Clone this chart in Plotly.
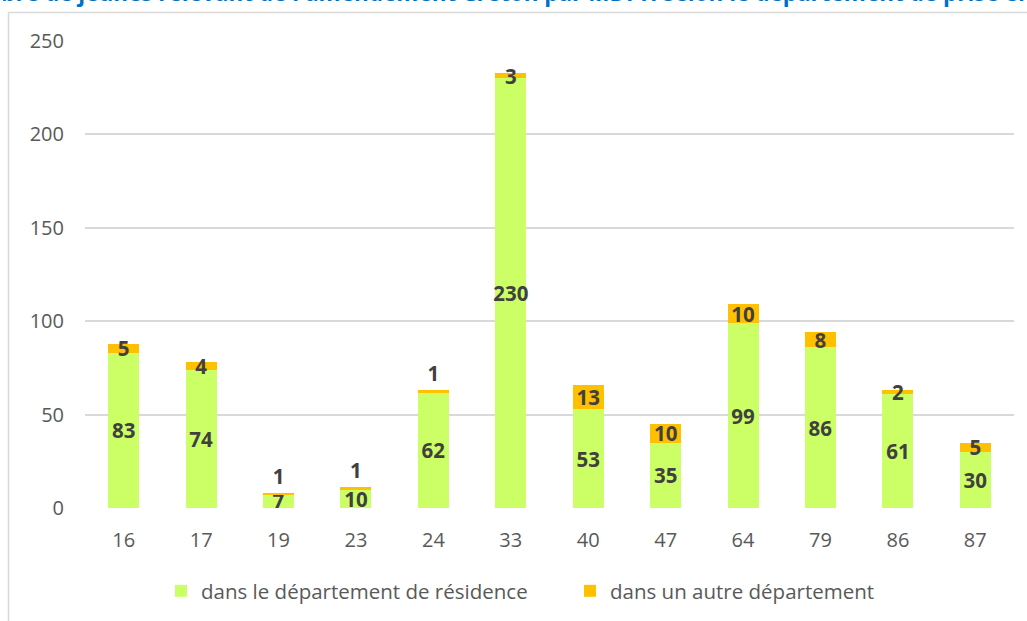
import plotly.graph_objects as go

categories = ["16", "17", "19", "23", "24", "33", "40", "47", "64", "79", "86", "87"]
residence = [83, 74, 7, 10, 62, 230, 53, 35, 99, 86, 61, 30]
autre = [5, 4, 1, 1, 1, 3, 13, 10, 10, 8, 2, 5]
series_names = ["dans le département de résidence", "dans un autre département"]
title_text = "Nombre de jeunes relevant de l'amendement Creton par MDPH selon le département de prise en charge"
y_ticks = [0, 50, 100, 150, 200, 250]

GREEN = "#CCFF66"
ORANGE = "#FFC000"
LABEL = "#404040"
TICK = "#595959"
FONT = "Open Sans"

OFF = 0  # page body margin removed via post_script
W, H = 1027 - OFF, 621 - OFF
# plot area in screen pixels: x 85..1014, y 41..508
L, R, T, B = 85 - OFF, 1027 - 1014, 41 - OFF, 621 - 508
pw, ph = W - L - R, H - T - B

def px_x(sx):
    return (sx - OFF - L) / pw

def px_y(sy):
    return (H - B - (sy - OFF)) / ph

autre_pos = ["outside" if v <= 1 else "inside" for v in autre]

fig = go.Figure()
fig.add_trace(go.Bar(
    x=categories, y=residence, name=series_names[0],
    marker=dict(color=GREEN, line=dict(width=0)),
    text=[str(v) for v in residence], textposition="inside",
    insidetextanchor="middle", textangle=0, constraintext="none",
    textfont=dict(family=FONT, size=20.5, color=LABEL, weight="bold"),
))
fig.add_trace(go.Bar(
    x=categories, y=autre, name=series_names[1],
    marker=dict(color=ORANGE, line=dict(width=0)),
    text=[str(v) for v in autre], textposition=autre_pos,
    insidetextanchor="middle", textangle=0, constraintext="none",
    textfont=dict(family=FONT, size=20.5, color=LABEL, weight="bold"),
    cliponaxis=False,
))

fig.update_layout(
    width=W, height=H,
    barmode="stack", bargap=0.6,
    margin=dict(l=L, r=R, t=T, b=B, pad=0, autoexpand=False),
    paper_bgcolor="white", plot_bgcolor="white",
    font=dict(family=FONT, size=20, color=TICK),
    showlegend=True,
    legend=dict(orientation="h", x=px_x(161), xanchor="left",
                y=px_y(591), yanchor="middle",
                font=dict(family=FONT, size=20.5, color=TICK),
                traceorder="normal", itemwidth=30,
                entrywidth=364, entrywidthmode="pixels"),
    xaxis=dict(type="category", showgrid=False, showline=False, ticks="",
               zeroline=False, tickfont=dict(size=20, color=TICK),
               ticklabelstandoff=18),
    yaxis=dict(range=[0, 250], tickvals=y_ticks, showgrid=True,
               gridcolor="#D9D9D9", gridwidth=1.5, zeroline=False,
               showline=False, ticks="", tickfont=dict(size=20, color=TICK),
               ticklabelstandoff=20),
    shapes=[
        dict(type="line", xref="paper", yref="paper",
             x0=px_x(8.5), x1=px_x(1040), y0=px_y(12.5), y1=px_y(12.5),
             line=dict(color="#D9D9D9", width=1.5), layer="below"),
        dict(type="line", xref="paper", yref="paper",
             x0=px_x(8.5), x1=px_x(8.5), y0=px_y(12.5), y1=px_y(640),
             line=dict(color="#D9D9D9", width=1.5), layer="below"),
    ],
    annotations=[
        dict(text="<b>" + title_text + "</b>", xref="paper", yref="paper",
             x=px_x(-55), xanchor="left", y=px_y(10), yanchor="bottom",
             showarrow=False, font=dict(family=FONT, size=22.5, color="#0070C0")),
    ],
)

fig.write_html("out.html", config={"displayModeBar": False},
               post_script="document.body.style.margin='0';")
